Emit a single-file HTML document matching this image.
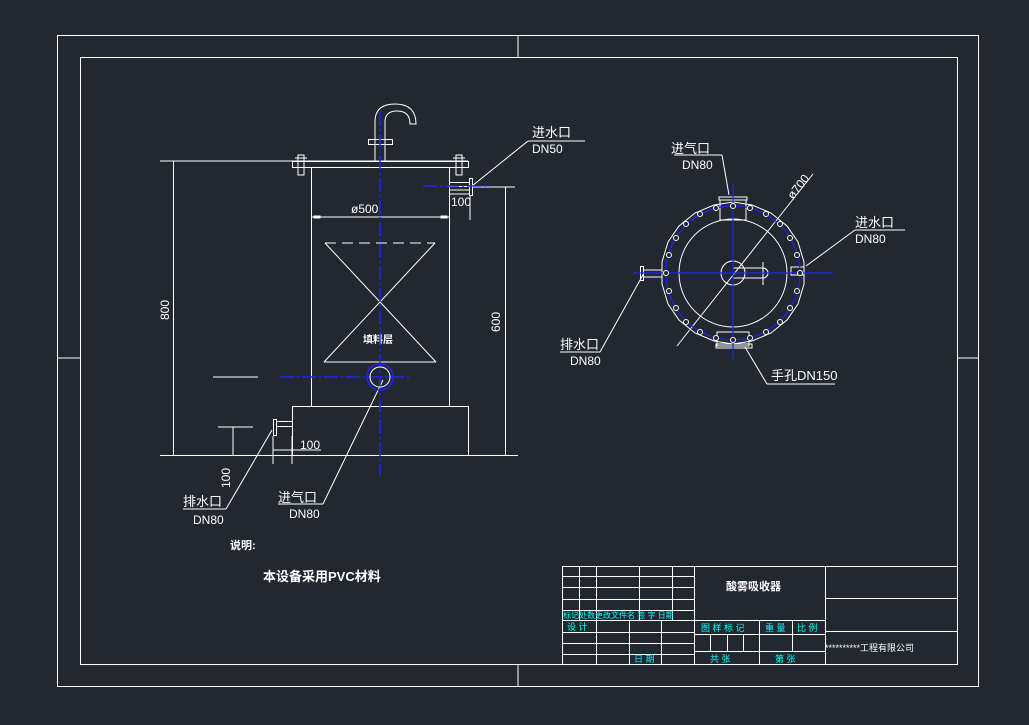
<!DOCTYPE html>
<html><head><meta charset="utf-8"><style>
html,body{margin:0;padding:0;background:#212830;}
svg{display:block}
text{font-family:"Liberation Sans","Noto Sans CJK SC",sans-serif;}
</style></head><body>
<svg width="1029" height="725" viewBox="0 0 1029 725" xmlns="http://www.w3.org/2000/svg">
<rect width="1029" height="725" fill="#212830"/>
<g fill="none" stroke="#fff" stroke-width="1">
<rect x="57.5" y="35.5" width="921" height="651"/>
<rect x="80.5" y="57.5" width="877" height="607"/>
<line x1="518" y1="35" x2="518" y2="57"/><line x1="518" y1="664" x2="518" y2="686"/>
<line x1="57" y1="358" x2="80" y2="358"/><line x1="957" y1="358" x2="978" y2="358"/>
</g>
<g fill="none" stroke="#fff" stroke-width="1">
<line x1="160" y1="161" x2="468" y2="161"/>
<rect x="292.5" y="161.5" width="176" height="6"/>
<line x1="311.5" y1="167" x2="311.5" y2="406"/>
<line x1="449.5" y1="167" x2="449.5" y2="406"/>
<rect x="292.5" y="406.5" width="176" height="49"/>
<line x1="160" y1="455.5" x2="518" y2="455.5"/>
<rect x="298" y="155" width="6" height="20"/><rect x="456" y="155" width="6" height="20"/>
<line x1="295" y1="158" x2="307" y2="158"/><line x1="453" y1="158" x2="465" y2="158"/>
<line x1="375" y1="161" x2="375" y2="122"/><line x1="385" y1="161" x2="385" y2="122"/>
<rect x="368.5" y="139.5" width="24" height="5"/>
<path d="M375 122 Q375 104 395 104 Q416 104 416 124 L410 124 Q410 111 397 111 Q385 111 385 122"/>
<rect x="449.5" y="182.5" width="20" height="4"/><rect x="449.5" y="190" width="20" height="4"/>
<rect x="469.5" y="178.5" width="3" height="17"/>
<line x1="470" y1="195" x2="470" y2="220"/>
<text x="451" y="206" font-size="12" fill="#fff" stroke="none">100</text>
<line x1="311" y1="217" x2="449" y2="217"/>
<rect x="314" y="216" width="6" height="2" fill="#fff"/><rect x="441" y="216" width="6" height="2" fill="#fff"/>
<text x="351" y="213" font-size="12" fill="#fff" stroke="none">ø500</text>
<line x1="325" y1="243" x2="435" y2="243" stroke-dasharray="11,6"/>
<line x1="324" y1="362" x2="436" y2="362"/>
<line x1="325" y1="243" x2="436" y2="362"/>
<line x1="435" y1="243" x2="324" y2="362"/>
<text x="363" y="343" font-size="10" fill="#fff" stroke="none" font-weight="bold">填料层</text>
<line x1="173.5" y1="161" x2="173.5" y2="455"/>
<text x="0" y="0" font-size="12" fill="#fff" stroke="none" transform="translate(169,320) rotate(-90)">800</text>
<line x1="473" y1="187" x2="515" y2="187"/>
<line x1="505.5" y1="187" x2="505.5" y2="455"/>
<text x="0" y="0" font-size="12" fill="#fff" stroke="none" transform="translate(500,332) rotate(-90)">600</text>
<line x1="213" y1="377" x2="258" y2="377"/>
<rect x="273.5" y="419.5" width="3" height="16"/>
<rect x="276.5" y="421.5" width="16" height="5"/>
<line x1="273" y1="436" x2="273" y2="464"/><line x1="292" y1="436" x2="292" y2="464"/>
<line x1="273" y1="450" x2="321" y2="450"/>
<text x="300" y="449" font-size="12" fill="#fff" stroke="none">100</text>
<line x1="218" y1="427" x2="253" y2="427"/>
<line x1="233" y1="427" x2="233" y2="455"/>
<text x="0" y="0" font-size="12" fill="#fff" stroke="none" transform="translate(230,488) rotate(-90)">100</text>
<line x1="272" y1="430" x2="226" y2="509"/><line x1="226" y1="509" x2="183" y2="509"/>
<line x1="383" y1="380" x2="323" y2="504"/><line x1="323" y1="504" x2="278" y2="504"/>
<line x1="472" y1="186" x2="528" y2="141"/><line x1="528" y1="141" x2="585" y2="141"/>
</g>
<g fill="none" stroke="#2020ff" stroke-width="1.5">
<line x1="380" y1="112" x2="380" y2="475" stroke-dasharray="14,3,2,3"/>
<line x1="280" y1="377" x2="410" y2="377" stroke-dasharray="14,3,2,3"/>
<line x1="423" y1="186" x2="490" y2="186" stroke-dasharray="14,3,2,3"/>
<circle cx="380" cy="377" r="13"/>
<circle cx="380" cy="377" r="10" stroke="#fff" stroke-width="1"/>
</g>
<g fill="#fff" font-size="13">
<text x="532" y="137">进水口</text><text x="532" y="153" font-size="12">DN50</text>
<text x="183" y="506">排水口</text><text x="193" y="524" font-size="12">DN80</text>
<text x="278" y="502">进气口</text><text x="289" y="518" font-size="12">DN80</text>
<text x="230" y="549" font-size="11" font-weight="bold">说明:</text>
<text x="263" y="581" font-size="13" font-weight="bold">本设备采用PVC材料</text>
</g>
<g fill="none" stroke="#fff" stroke-width="1">
<polygon points="733,202 752,205 771,213 787,226 798,242 804,262 804,284 798,304 787,320 771,333 752,341 733,344 714,341 695,333 679,320 668,304 662,284 662,262 668,242 679,226 695,213 714,205"/>
<circle cx="733" cy="273" r="54"/>
<rect x="720" y="200" width="26" height="20"/>
<rect x="717" y="332" width="32" height="14"/>
<rect x="716" y="344" width="36" height="4"/>
<rect x="719" y="197" width="28" height="3"/>
<rect x="640.5" y="266.5" width="3" height="14"/><line x1="643" y1="270" x2="662" y2="270"/><line x1="643" y1="277" x2="662" y2="277"/>
<rect x="791" y="267" width="13" height="8"/>
<circle cx="733" cy="273" r="12"/>
<path d="M733 268 L763 268 A5 5 0 0 1 763 278 L733 278"/>
<line x1="763" y1="262" x2="763" y2="285"/>
<line x1="677" y1="346" x2="813" y2="174"/>
<line x1="729" y1="195" x2="722" y2="155"/><line x1="722" y1="155" x2="674" y2="155"/>
<line x1="806" y1="266" x2="855" y2="230"/><line x1="855" y1="230" x2="905" y2="230"/>
<line x1="644" y1="273" x2="600" y2="352"/><line x1="600" y1="352" x2="560" y2="352"/>
<line x1="745" y1="347" x2="767" y2="384"/><line x1="767" y1="384" x2="835" y2="384"/>
</g>
<g fill="none" stroke="#2020ff" stroke-width="1.2">
<circle cx="733" cy="273" r="67"/>
<line x1="733" y1="184" x2="733" y2="360"/>
<line x1="633" y1="273" x2="833" y2="273"/>
</g>
<g fill="#212830" stroke="#fff" stroke-width="1">
<circle cx="733" cy="206" r="2.5"/><circle cx="750" cy="208" r="2.5"/><circle cx="766" cy="214" r="2.5"/><circle cx="780" cy="224" r="2.5"/><circle cx="790" cy="238" r="2.5"/><circle cx="797" cy="255" r="2.5"/><circle cx="800" cy="273" r="2.5"/><circle cx="797" cy="291" r="2.5"/><circle cx="790" cy="308" r="2.5"/><circle cx="780" cy="322" r="2.5"/><circle cx="766" cy="332" r="2.5"/><circle cx="750" cy="338" r="2.5"/><circle cx="733" cy="340" r="2.5"/><circle cx="716" cy="338" r="2.5"/><circle cx="700" cy="332" r="2.5"/><circle cx="686" cy="322" r="2.5"/><circle cx="676" cy="308" r="2.5"/><circle cx="669" cy="291" r="2.5"/><circle cx="666" cy="273" r="2.5"/><circle cx="669" cy="255" r="2.5"/><circle cx="676" cy="238" r="2.5"/><circle cx="686" cy="224" r="2.5"/><circle cx="700" cy="214" r="2.5"/><circle cx="716" cy="208" r="2.5"/>
</g>
<g fill="#fff" font-size="13">
<text x="671" y="153">进气口</text><text x="682" y="169" font-size="12">DN80</text>
<text x="855" y="227">进水口</text><text x="855" y="243" font-size="12">DN80</text>
<text x="560" y="349">排水口</text><text x="570" y="365" font-size="12">DN80</text>
<text x="771" y="380">手孔DN150</text>
<text x="0" y="0" font-size="12" transform="translate(793,200) rotate(-52)">ø700</text>
</g>
<g fill="none" stroke="#fff" stroke-width="1">
<rect x="562.5" y="566.5" width="395" height="98"/>
<line x1="562" y1="576.5" x2="694" y2="576.5"/><line x1="562" y1="587.5" x2="694" y2="587.5"/>
<line x1="562" y1="599.5" x2="694" y2="599.5"/><line x1="562" y1="610.5" x2="694" y2="610.5"/>
<line x1="562" y1="620.5" x2="825" y2="620.5"/><line x1="562" y1="632.5" x2="694" y2="632.5"/>
<line x1="562" y1="643.5" x2="694" y2="643.5"/><line x1="562" y1="654.5" x2="694" y2="654.5"/>
<line x1="579.5" y1="566" x2="579.5" y2="620"/><line x1="596.5" y1="566" x2="596.5" y2="664"/>
<line x1="639.5" y1="566" x2="639.5" y2="620"/><line x1="672.5" y1="566" x2="672.5" y2="620"/>
<line x1="629.5" y1="620" x2="629.5" y2="664"/><line x1="661.5" y1="620" x2="661.5" y2="664"/>
<line x1="694.5" y1="566" x2="694.5" y2="664"/><line x1="825.5" y1="566" x2="825.5" y2="664"/>
<line x1="825" y1="598.5" x2="957" y2="598.5"/><line x1="825" y1="631.5" x2="957" y2="631.5"/>
<line x1="694" y1="634.5" x2="825" y2="634.5"/><line x1="694" y1="651.5" x2="825" y2="651.5"/>
<line x1="759.5" y1="620" x2="759.5" y2="664"/><line x1="792.5" y1="620" x2="792.5" y2="651"/>
<line x1="710.5" y1="634" x2="710.5" y2="651"/><line x1="727.5" y1="634" x2="727.5" y2="651"/><line x1="743.5" y1="634" x2="743.5" y2="651"/>
</g>
<g fill="#00ffff" font-size="9">
<text x="563" y="618" font-size="8">标记处数更改文件名 签 字 日期</text>
<text x="567" y="630">设 计</text>
<text x="634" y="662">日 期</text>
<text x="701" y="631">图 样 标 记</text>
<text x="765" y="631">重 量</text>
<text x="797" y="631">比 例</text>
<text x="710" y="662">共   张</text>
<text x="775" y="662">第   张</text>
</g>
<text x="726" y="590" font-size="11" fill="#fff" font-weight="bold">酸雾吸收器</text>
<text x="825" y="651" font-size="9" fill="#fff">**********工程有限公司</text>
</svg>
</body></html>
